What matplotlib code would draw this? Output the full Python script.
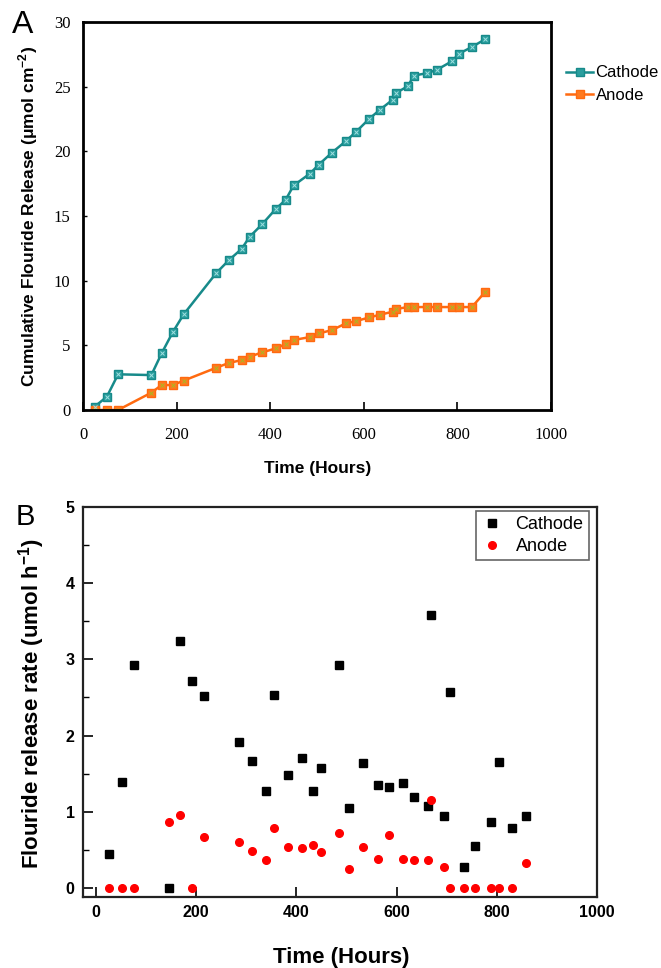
import matplotlib
matplotlib.use("Agg")
import matplotlib.pyplot as plt
from matplotlib.ticker import MultipleLocator

plt.rcParams['font.family'] = ['Liberation Sans', 'DejaVu Sans']
plt.rcParams['mathtext.fontset'] = 'custom'
plt.rcParams['mathtext.rm'] = 'Liberation Sans'
plt.rcParams['mathtext.bf'] = 'Liberation Sans:bold'

# sampling times (hours)
hours = [25, 51, 75, 146, 168, 192, 215, 285, 311, 339, 356, 383, 412, 433,
         450, 485, 504, 532, 562, 584, 612, 635, 662, 668, 694, 707, 735, 756,
         788, 804, 831, 859]

# panel A: cumulative fluoride release (umol cm-2)
cum_cathode = [0.26, 1.03, 2.76, 2.7, 4.38, 6.03, 7.39, 10.6, 11.56, 12.46,
               13.39, 14.37, 15.55, 16.25, 17.36, 18.28, 18.98, 19.9, 20.8,
               21.53, 22.53, 23.23, 24.0, 24.5, 25.03, 25.86, 26.04, 26.3,
               26.96, 27.56, 28.07, 28.66]
cum_anode = [0.0, 0.0, 0.0, 1.34, 1.93, 1.93, 2.27, 3.27, 3.63, 3.86, 4.12,
             4.46, 4.76, 5.1, 5.41, 5.64, 5.92, 6.18, 6.7, 6.88, 7.16, 7.37,
             7.6, 7.8, 7.96, 7.96, 7.96, 7.96, 7.96, 7.96, 7.96, 9.12]

# panel B: release rate (umol h-1)
rate_cathode = [0.45, 1.39, 2.93, 0.0, 3.24, 2.71, 2.52, 1.91, 1.66, 1.27,
                2.53, 1.48, 1.70, 1.27, 1.57, 2.93, 1.05, 1.64, 1.35, 1.32,
                1.38, 1.19, 1.08, 3.58, 0.94, 2.57, 0.28, 0.55, 0.87, 1.65,
                0.78, 0.94]
rate_anode = [0.0, 0.0, 0.0, 0.87, 0.96, 0.0, 0.67, 0.6, 0.49, 0.37, 0.78,
              0.53, 0.52, 0.56, 0.47, 0.72, 0.25, 0.53, 0.38, 0.70, 0.38,
              0.37, 0.36, 1.16, 0.28, 0.0, 0.0, 0.0, 0.0, 0.0, 0.0, 0.33]

teal = '#178a8a'
orange = '#ff6a10'

fig = plt.figure(figsize=(6.61, 9.68), dpi=100)

# ---------------- panel A ----------------
axA = fig.add_axes([83 / 661, 1 - 410 / 968, 468 / 661, 388 / 968])
axA.plot(hours, cum_cathode, '-s', color=teal, lw=1.8, ms=5.5,
         mfc='#2a9e9e', mec=teal, label='Cathode')
axA.plot(hours, cum_anode, '-s', color=orange, lw=1.8, ms=5.5,
         mfc='#ff7a20', mec=orange, label='Anode')
axA.plot(hours, cum_cathode, 'x', color='#9fe0e0', ms=2.5, mew=0.7)
axA.plot(hours, cum_anode, 'x', color='#a8b820', ms=2.5, mew=0.7)

axA.set_xlim(0, 1000)
axA.set_ylim(0, 30)
axA.set_xticks(range(0, 1001, 200))
axA.set_yticks(range(0, 31, 5))
axA.tick_params(axis='x', direction='in', length=6, width=1.2, pad=12)
axA.tick_params(axis='y', direction='in', length=3, width=1.0, pad=9)
for lab in axA.get_xticklabels() + axA.get_yticklabels():
    lab.set_fontfamily('Liberation Serif')
    lab.set_fontsize(12)
for sp in axA.spines.values():
    sp.set_linewidth(2)

axA.set_xlabel('Time (Hours)', fontsize=12.5, fontweight='bold')
axA.xaxis.set_label_coords(0.502, -0.131)
axA.set_ylabel(r'Cumulative Flouride Release (μmol cm$^{\mathbf{-2}}$)',
               fontsize=12.5, fontweight='bold')
axA.yaxis.set_label_coords(-0.092, 0.5)

legA = axA.legend(loc='upper left', bbox_to_anchor=(558 / 661, 1 - 57 / 968),
                  bbox_transform=fig.transFigure, frameon=False, fontsize=12,
                  handlelength=1.6, handletextpad=0.15, borderpad=0,
                  labelspacing=0.45)

# ---------------- panel B ----------------
axB = fig.add_axes([83 / 661, 1 - 897 / 968, 514 / 661, 390 / 968])
axB.plot(hours, rate_cathode, 's', color='black', ms=5.2, ls='none',
         label='Cathode')
axB.plot(hours, rate_anode, 'o', color='red', ms=5.5, ls='none',
         label='Anode')

axB.set_xlim(-26, 1000)
axB.set_ylim(-0.12, 5)
axB.set_xticks(range(0, 1001, 200))
axB.set_yticks(range(0, 6))
axB.yaxis.set_minor_locator(MultipleLocator(0.5))
axB.tick_params(which='major', direction='in', length=7, width=1.2,
                labelsize=11.5, pad=6)
axB.tick_params(which='minor', direction='in', length=4, width=1)
for lab in axB.get_xticklabels() + axB.get_yticklabels():
    lab.set_fontweight('bold')
for sp in axB.spines.values():
    sp.set_linewidth(1.6)
    sp.set_color('#222222')

axB.set_xlabel('Time (Hours)', fontsize=16, fontweight='bold')
axB.xaxis.set_label_coords(0.502, -0.128)
axB.set_ylabel(r'Flouride release rate (umol h$^{\mathbf{-1}}$)',
               fontsize=16, fontweight='bold')
axB.yaxis.set_label_coords(-0.07, 0.495)

legB = axB.legend(loc='upper right', bbox_to_anchor=(506 / 514, 386 / 390),
                  fontsize=13, frameon=True, fancybox=False,
                  edgecolor='#666666', framealpha=1, borderaxespad=0,
                  handlelength=1.2, handletextpad=0.7, borderpad=0.3,
                  labelspacing=0.25, markerscale=1.0)
legB.get_frame().set_linewidth(1.2)

fig.text(23 / 661, 1 - 25 / 968, 'A', fontsize=23, ha='center', va='center')
fig.text(25 / 661, 1 - 517 / 968, 'B', fontsize=21, ha='center', va='center')

fig.savefig('out.png', dpi=100)
